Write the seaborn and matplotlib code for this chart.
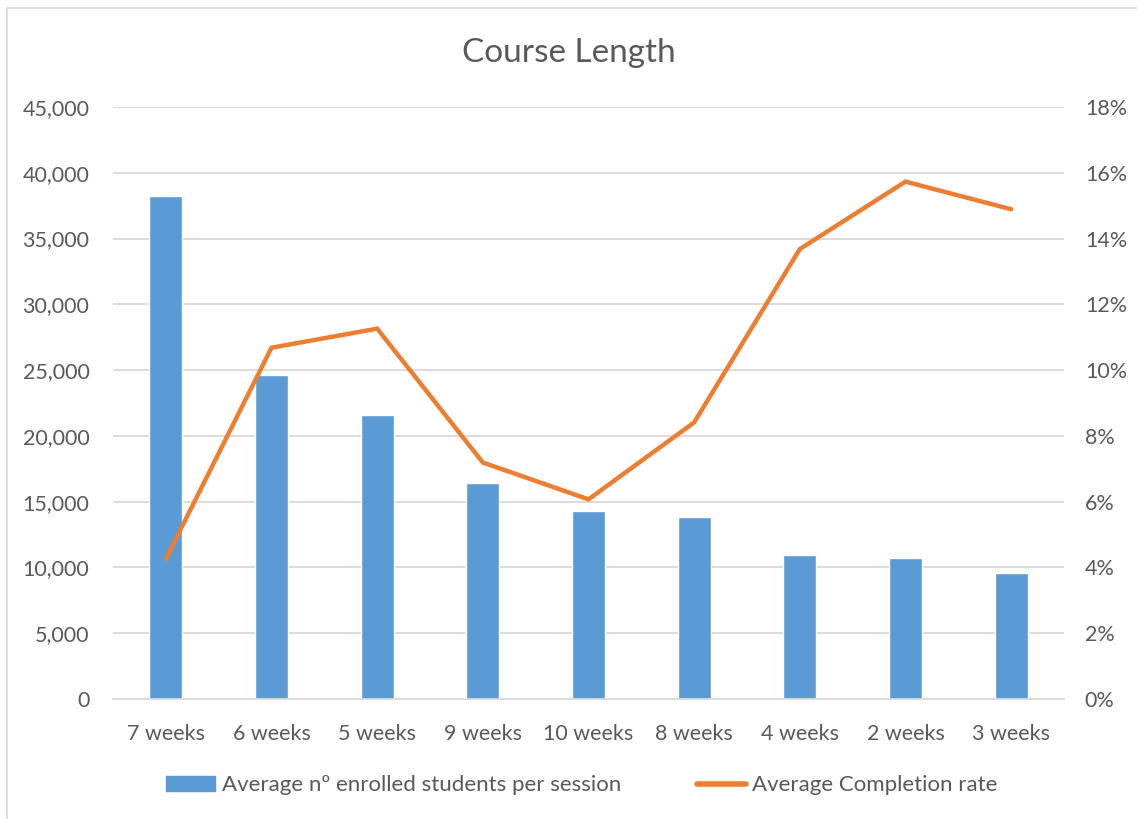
import matplotlib
matplotlib.use('Agg')
import matplotlib.pyplot as plt
import seaborn as sns
import pandas as pd
from matplotlib.patches import Patch, Rectangle
from matplotlib.lines import Line2D
from matplotlib.ticker import FuncFormatter, MultipleLocator

# Данные
categories = ['7 weeks', '6 weeks', '5 weeks', '9 weeks', '10 weeks',
              '8 weeks', '4 weeks', '2 weeks', '3 weeks']
enrolled = [38250, 24600, 21550, 16400, 14300, 13800, 10950, 10700, 9600]
completion = [4.26, 10.68, 11.26, 7.19, 6.07, 8.41, 13.68, 15.73, 14.89]

df = pd.DataFrame({'length': categories, 'enrolled': enrolled,
                   'completion': completion})

sns.set_style('white')
plt.rcParams['font.family'] = ['Lato', 'DejaVu Sans']

blue = '#5b9bd5'
orange = '#ed7d31'
txt = '#595959'
grid = '#d9d9d9'

fig = plt.figure(figsize=(11.37, 8.19), dpi=100)
ax = fig.add_axes([0.0994, 0.1465, 0.8364, 0.7229])

sns.barplot(data=df, x='length', y='enrolled', color=blue, width=0.31,
            saturation=1, ax=ax, zorder=2)
ax.set_ylim(0, 45000)
ax.yaxis.set_major_locator(MultipleLocator(5000))
ax.yaxis.set_major_formatter(FuncFormatter(lambda v, p: f'{int(v):,}'))
ax.grid(axis='y', color=grid, lw=1.3, zorder=0)
ax.set_axisbelow(True)
ax.set_xlabel('')
ax.set_ylabel('')
ax.set_xlim(-0.5, len(categories) - 0.5)

# Вторая ось для процента завершения
ax2 = ax.twinx()
sns.lineplot(x=list(range(len(categories))), y=completion, color=orange,
             lw=3.2, ax=ax2, solid_capstyle='round', solid_joinstyle='miter')
ax2.set_ylim(0, 18)
ax2.yaxis.set_major_locator(MultipleLocator(2))
ax2.yaxis.set_major_formatter(FuncFormatter(lambda v, p: f'{int(round(v))}%'))
ax2.set_xlim(-0.5, len(categories) - 0.5)

for a in (ax, ax2):
    for s in a.spines.values():
        s.set_visible(False)
    a.tick_params(length=0, labelsize=15.5, colors=txt)
ax.spines['bottom'].set_visible(True)
ax.spines['bottom'].set_color(grid)
ax.spines['bottom'].set_linewidth(1.3)
ax.tick_params(axis='y', pad=17)
ax.tick_params(axis='x', pad=18)
ax2.tick_params(axis='y', pad=15)

fig.text(0.5, 0.935, 'Course Length', ha='center', va='center',
         fontsize=24, color=txt)

handles = [Patch(color=blue, label='Average nº enrolled students per session'),
           Line2D([0], [0], color=orange, lw=4,
                  label='Average Completion rate')]
fig.legend(handles=handles, loc='center', bbox_to_anchor=(0.512, 0.041),
           ncol=2, frameon=False, fontsize=16, labelcolor=txt,
           handlelength=2.2, handletextpad=0.3, columnspacing=3.4)

fig.patches.append(Rectangle((7 / 1137, -0.1), 1.2, 1.1 - 8 / 819,
                             transform=fig.transFigure, fill=False,
                             edgecolor='#d9d9d9', lw=1.2))

fig.savefig('out.png', dpi=100, facecolor='white')
